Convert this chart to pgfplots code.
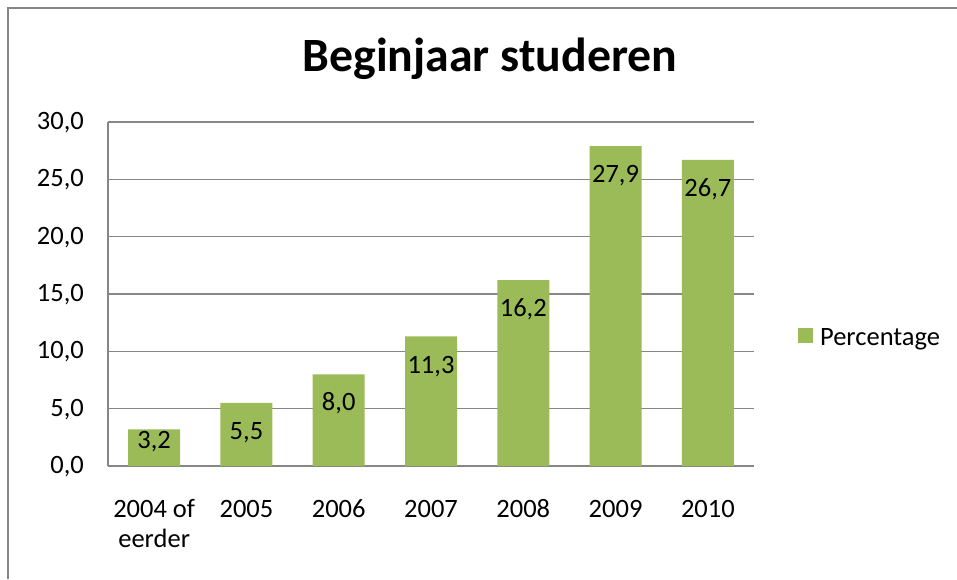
\documentclass[border=0pt]{standalone}
\usepackage{pgfplots}
\pgfplotsset{compat=1.18}
\usepackage{fontspec}
\setmainfont{Carlito}
\definecolor{bargreen}{HTML}{9BBB59}
\definecolor{gridgray}{HTML}{868686}
\begin{document}
\begin{tikzpicture}
\useasboundingbox (0,0) rectangle (957pt,579pt);
% chart frame (only left and top edges are visible in the crop)
\draw[gridgray, line width=1.5pt] (8pt,0pt) -- (8pt,571pt) -- (957pt,571pt);
\begin{axis}[
    at={(108pt,113pt)},
    anchor=south west,
    scale only axis,
    width=646pt,
    height=344pt,
    xmin=-0.5, xmax=6.5,
    ymin=0, ymax=30,
    ytick={0,5,...,30},
    yticklabels={{0,0},{5,0},{10,0},{15,0},{20,0},{25,0},{30,0}},
    xtick={0,...,6},
    xticklabels={{\begin{tabular}[t]{@{}c@{}}2004 of\\eerder\end{tabular}},2005,2006,2007,2008,2009,2010},
    major tick length=0pt,
    axis x line*=bottom,
    axis y line*=left,
    axis line style={gridgray, line width=1.3pt},
    ymajorgrids,
    grid style={gridgray, line width=1.3pt},
    tick label style={font=\fontsize{26.5}{30}\selectfont, text=black},
    xticklabel style={anchor=base, yshift=-51pt, inner sep=0pt},
    yticklabel style={anchor=base east, yshift=-7.5pt, xshift=-24pt, inner sep=0pt},
    title={Beginjaar studeren},
    title style={at={(axis description cs:0.5913,1)}, anchor=base, yshift=45pt,
                 font=\fontsize{47.8}{56}\selectfont\bfseries, inner sep=0pt},
    legend style={at={(1.068,0.372)}, anchor=west, draw=none, fill=none,
                  inner sep=0pt, font=\fontsize{26.5}{30}\selectfont,
                  /tikz/every odd column/.append style={column sep=5pt}},
    legend image code/.code={\fill[bargreen] (0pt,-5pt) rectangle (15pt,10pt);},
    clip=false,
]
\addplot[ybar, bar width=52pt, fill=bargreen, draw=none]
    coordinates {(0,3.2) (1,5.5) (2,8.0) (3,11.3) (4,16.2) (5,27.9) (6,26.7)};
\addlegendentry{Percentage}

% data labels: baseline positions inside the bars
\addplot[forget plot, only marks, mark=none,
    nodes near coords, point meta=explicit symbolic,
    every node near coord/.style={anchor=base, inner sep=0pt,
        font=\fontsize{26.5}{30}\selectfont, text=black}]
    coordinates {
    (0,1.57)[{3,2}]
    (1,2.3)[{5,5}]
    (2,4.8)[{8,0}]
    (3,8.1)[{11,3}]
    (4,13.0)[{16,2}]
    (5,24.7)[{27,9}]
    (6,23.5)[{26,7}]
    };
\end{axis}
\end{tikzpicture}
\end{document}
